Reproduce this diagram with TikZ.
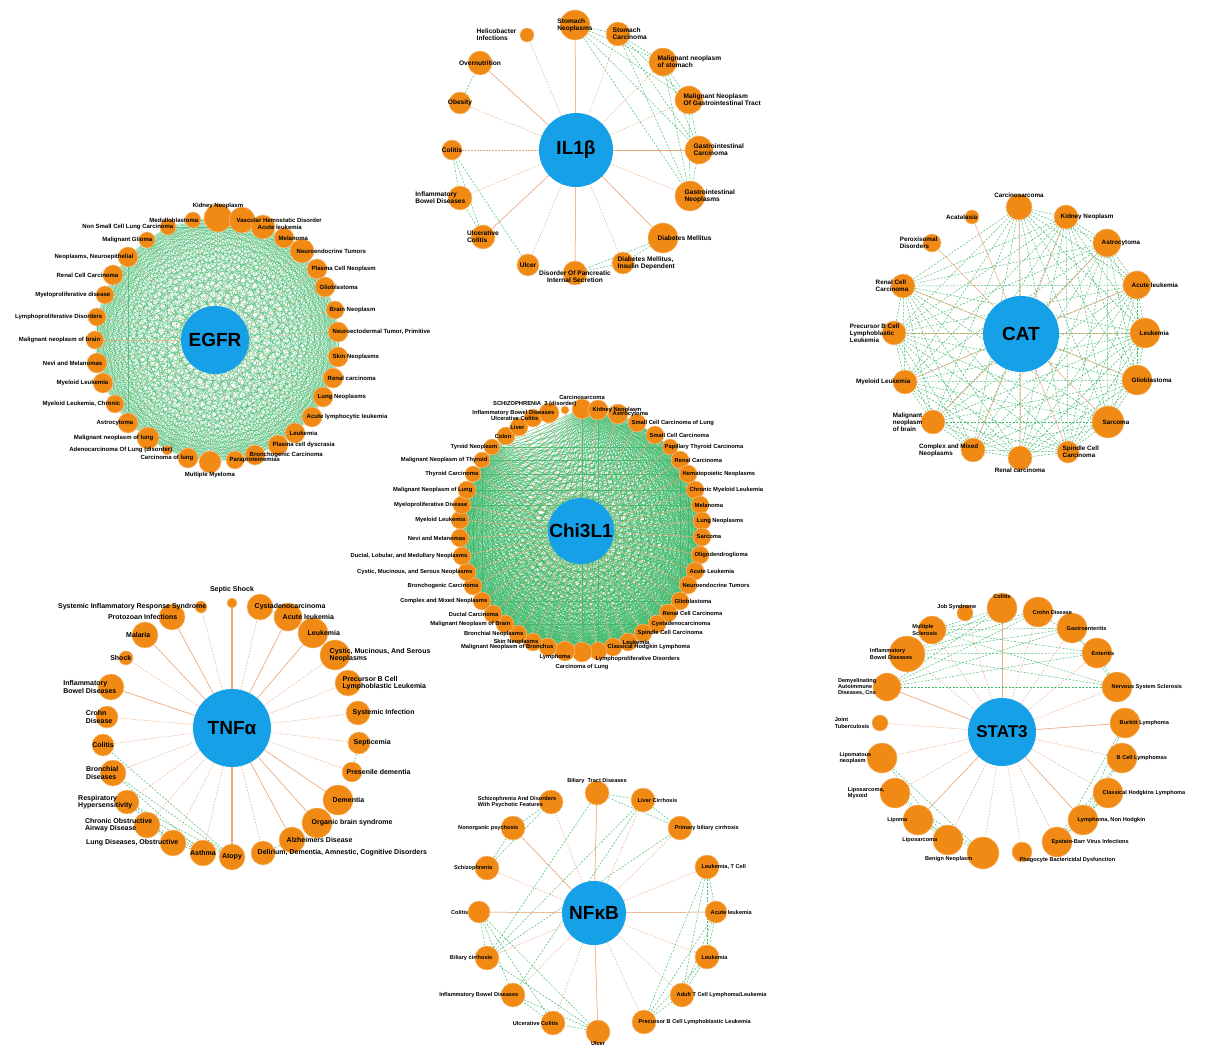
\documentclass[tikz,border=0pt]{standalone}
\usepackage{fontspec}
\setmainfont{Liberation Sans}
\definecolor{hubblue}{RGB}{22,160,232}
\definecolor{disor}{RGB}{240,138,20}
\definecolor{lineor}{RGB}{236,168,125}
\definecolor{linegr}{RGB}{60,185,105}
\pgfdeclarelayer{back}
\pgfdeclarelayer{front}
\pgfsetlayers{back,main,front}

\begin{document}
\begin{tikzpicture}[x=1pt,y=-1pt,
	hub/.style={circle,fill=hubblue,inner sep=0pt,font=\bfseries\fontsize{19}{20}\selectfont},
	dis/.style={circle,fill=disor,draw=disor!55!white,line width=0.5pt,inner sep=0pt},
	lbl/.style={inner sep=0.5pt,font=\bfseries\fontsize{6}{6.6}\selectfont},
	tE/.style={anchor=west,xshift=-6pt,align=left},
	tW/.style={anchor=east,xshift=6pt,align=left},
	tN/.style={anchor=south,yshift=9pt,align=center},
	tS/.style={anchor=north,yshift=-9pt,align=center},
	tSd/.style={anchor=north,yshift=-12pt,align=center},
	tSo/.style={anchor=north,xshift=-10pt,yshift=-3pt,align=center},
	tM/.style={anchor=center,align=left},
	tC/.style={anchor=north,yshift=3pt,align=center},
	tL/.style={anchor=east,xshift=-10pt,align=left},
	tSE/.style={anchor=north west,xshift=-3pt,yshift=-5pt},
	tSW/.style={anchor=north east,xshift=-10pt,yshift=-3pt},
	tNW/.style={anchor=south east,xshift=12pt,yshift=3pt},
	hubline/.style={draw=lineor,line width=0.5pt,dash pattern=on 1.5pt off 1.5pt},
	hubsolid/.style={draw=lineor,line width=0.5pt},
	gline/.style={draw=linegr,line width=0.45pt,dash pattern=on 2pt off 1.5pt},
	gdense/.style={draw=linegr,line width=0.3pt,opacity=0.75}]

	\useasboundingbox (0,0) rectangle (1210,1048);
	\begin{pgfonlayer}{back}
		\fill[white] (0,0) rectangle (1210,1048);
	\end{pgfonlayer}

	% IL1b
	\begin{scope}[lbl/.append style={font=\bfseries\fontsize{6.6}{7.2}\selectfont}]
		\node[hub,minimum size=74] (il) at (576,150) {IL1β};
		\foreach \px/\py/\rad/\side/\lab [count=\i] in {
			575/25/15/tM/{Stomach\\Neoplasms},
			618/34/12/tE/{Stomach\\Carcinoma},
			663/62/14/tE/{Malignant neoplasm\\of stomach},
			689/100/14/tE/{Malignant Neoplasm\\Of Gastrointestinal Tract},
			699/150/14/tE/{Gastrointestinal\\Carcinoma},
			690/196/15/tE/{Gastrointestinal\\Neoplasms},
			663/238/15/tE/{Diabetes Mellitus},
			623/263/11/tE/{Diabetes Mellitus,\\Insulin Dependent},
			575/273/12/tC/{Disorder Of Pancreatic\\Internal Secretion},
			528/265/11/tM/{Ulcer},
			483/237/12/tM/{Ulcerative\\Colitis},
			460/198/12/tW/{Inflammatory\\Bowel Diseases},
			452/150/10/tM/{Colitis},
			460/103/11/tM/{Obesity},
			480/63/12/tM/{Overnutrition},
			527/35/7/tL/{Helicobacter\\Infections}}{
			\node[dis,minimum size=2*\rad] (il-\i) at (\px,\py) {};
			\begin{pgfonlayer}{front}
				\node[lbl,\side] (il-\i-t) at (il-\i.center) {\lab};
			\end{pgfonlayer}
		}
	\end{scope}
	\begin{pgfonlayer}{back}
		\foreach \i in {1,...,16} \draw[hubline] (il) -- (il-\i);
		\foreach \i in {1,5,7,9,11,15} \draw[hubsolid] (il) -- (il-\i);
		\foreach \a/\b in {1/2,1/3,1/4,1/5,1/6,2/3,2/4,2/5,2/6,3/4,3/5,3/6,4/5,4/6,5/6,7/8,7/9,8/9,11/12,11/13,12/13,10/13,14/15}
			\draw[gline] (il-\a) -- (il-\b);
	\end{pgfonlayer}

	% EGFR
	\node[hub,minimum size=68] (eg) at (215,340) {EGFR};
	\foreach \px/\py/\rad/\side/\lab [count=\i] in {
		218/218/14/tN/{Kidney Neoplasm},
		242/220/13/tE/{Vascular Hemostatic Disorder},
		263/227/12/tE/{Acute leukemia},
		284/238/10/tE/{Melanoma},
		302/251/12/tE/{Neuroendocrine Tumors},
		317/269/10/tE/{Plasma Cell Neoplasm},
		325/287/10/tE/{Glioblastoma},
		335/310/9/tE/{Brain Neoplasm},
		338/332/10/tE/{Neuroectodermal Tumor, Primitive},
		338/357/10/tE/{Skin Neoplasms},
		333/378/10/tE/{Renal carcinoma},
		323/397/10/tE/{Lung Neoplasms},
		312/417/10/tE/{Acute lymphocytic leukemia},
		295/433/10/tE/{Leukemia},
		278/445/10/tE/{Plasma cell dyscrasia},
		255/455/10/tE/{Bronchogenic Carcinoma},
		235/460/9/tE/{Paraproteinemias},
		210/462/11/tS/{Multiple Myeloma},
		188/458/10/tW/{Carcinoma of lung},
		167/450/5/tW/{Adenocarcinoma Of Lung (disorder)},
		148/438/11/tW/{Malignant neoplasm of lung},
		128/423/10/tW/{Astrocytoma},
		115/404/9/tW/{Myeloid Leukemia, Chronic},
		103/383/10/tW/{Myeloid Leukemia},
		97/363/10/tW/{Nevi and Melanomas},
		95/340/9/tW/{Malignant neoplasm of brain},
		97/317/9/tW/{Lymphoproliferative Disorders},
		105/295/9/tW/{Myeloproliferative disease},
		113/275/10/tW/{Renal Cell Carcinoma},
		128/257/10/tW/{Neoplasms, Neuroepithelial},
		147/240/8/tW/{Malignant Glioma},
		168/227/8/tW/{Non Small Cell Lung Carcinoma},
		193/220/8/tW/{Medulloblastoma}}{
		\node[dis,minimum size=2*\rad] (eg-\i) at (\px,\py) {};
		\begin{pgfonlayer}{front}
			\node[lbl,\side] (eg-\i-t) at (eg-\i.center) {\lab};
		\end{pgfonlayer}
	}
	\begin{pgfonlayer}{back}
		\foreach \i in {1,...,32}{
			\pgfmathtruncatemacro\nx{\i+1}
			\foreach \j in {\nx,...,33} \draw[gdense] (eg-\i) -- (eg-\j);
		}
		\foreach \i in {1,...,33} \draw[hubline] (eg) -- (eg-\i);
	\end{pgfonlayer}

	% CAT
	\begin{scope}[lbl/.append style={font=\bfseries\fontsize{6.3}{7}\selectfont}]
		\node[hub,minimum size=76] (ca) at (1021,334) {CAT};
		\foreach \px/\py/\rad/\side/\lab [count=\i] in {
			1019/207/13/tN/{Carcinosarcoma},
			1066/217/12/tE/{Kidney Neoplasm},
			1107/243/14/tE/{Astrocytoma},
			1137/285/14/tE/{Acute leukemia},
			1145/333/15/tE/{Leukemia},
			1137/380/15/tE/{Glioblastoma},
			1108/422/16/tE/{Sarcoma},
			1068/452/11/tE/{Spindle Cell\\Carcinoma},
			1020/458/12/tS/{Renal carcinoma},
			973/450/12/tW/{Complex and Mixed\\Neoplasms},
			933/422/12/tL/{Malignant\\neoplasm\\of brain},
			905/382/12/tW/{Myeloid Leukemia},
			894/333/12/tW/{Precursor B Cell\\Lymphoblastic\\Leukemia},
			903/286/12/tW/{Renal Cell\\Carcinoma},
			932/243/9/tW/{Peroxisomal\\Disorders},
			972/217/7/tW/{Acatalasia}}{
			\node[dis,minimum size=2*\rad] (ca-\i) at (\px,\py) {};
			\begin{pgfonlayer}{front}
				\node[lbl,\side] (ca-\i-t) at (ca-\i.center) {\lab};
			\end{pgfonlayer}
		}
	\end{scope}
	\begin{pgfonlayer}{back}
		\foreach \i in {1,...,13}{
			\pgfmathtruncatemacro\nx{\i+1}
			\foreach \j in {\nx,...,14} \draw[gline] (ca-\i) -- (ca-\j);
		}
		\foreach \i in {1,...,16} \draw[hubsolid] (ca) -- (ca-\i);
	\end{pgfonlayer}

	% Chi3L1
	\begin{scope}[lbl/.append style={font=\bfseries\fontsize{5.8}{6.4}\selectfont}]
		\node[hub,minimum size=66] (ch) at (581,531) {Chi3L1};
		\foreach \px/\py/\rad/\side/\lab [count=\i] in {
			582/409/10/tN/{Carcinosarcoma},
			598/410/10/tE/{Kidney Neoplasm},
			618/414/10/tE/{Astrocytoma},
			637/423/9/tE/{Small Cell Carcinoma of Lung},
			655/435/9/tE/{Small Cell Carcinoma},
			670/447/8/tE/{Papillary Thyroid Carcinoma},
			680/460/9/tE/{Renal Carcinoma},
			688/474/9/tE/{Hematopoietic Neoplasms},
			695/490/9/tE/{Chronic Myeloid Leukemia},
			700/505/9/tE/{Melanoma},
			702/521/9/tE/{Lung Neoplasms},
			702/537/9/tE/{Sarcoma},
			700/555/9/tE/{Oligodendroglioma},
			695/571/9/tE/{Acute Leukemia},
			688/585/9/tE/{Neuroendocrine Tumors},
			680/601/9/tE/{Glioblastoma},
			668/613/9/tE/{Renal Cell Carcinoma},
			657/624/9/tE/{Cystadenocarcinoma},
			643/633/9/tE/{Spindle Cell Carcinoma},
			628/642/9/tE/{Leukemia},
			613/647/9/tE/{Classical Hodgkin Lymphoma},
			598/651/9/tSE/{Lymphoproliferative Disorders},
			582/652/10/tSd/{Carcinoma of Lung},
			565/651/10/tSo/{Lymphoma},
			548/647/9/tW/{Malignant Neoplasm of Bronchus},
			533/642/9/tW/{Skin Neoplasms},
			518/634/9/tW/{Bronchial Neoplasms},
			505/624/9/tW/{Malignant Neoplasm of Brain},
			493/614/9/tW/{Ductal Carcinoma},
			482/601/9/tW/{Complex and Mixed Neoplasms},
			473/586/9/tW/{Bronchogenic Carcinoma},
			467/572/9/tW/{Cystic, Mucinous, and Serous Neoplasms},
			462/556/9/tW/{Ductal, Lobular, and Medullary Neoplasms},
			460/538/9/tW/{Nevi and Melanomas},
			460/520/9/tW/{Myeloid Leukemia},
			462/505/9/tW/{Myeloproliferative Disease},
			467/490/9/tW/{Malignant Neoplasm of Lung},
			473/474/8/tW/{Thyroid Carcinoma},
			482/460/8/tW/{Malignant Neoplasm of Thyroid},
			492/447/8/tW/{Tyroid Neoplasm},
			506/436/9/tW/{Colon},
			519/427/9/tW/{Liver},
			533/418/9/tW/{Ulcerative Colitis},
			549/413/10/tW/{Inflammatory Bowel Diseases},
			565/410/4/tNW/{SCHIZOPHRENIA\ \ 3 (disorder)}}{
			\node[dis,minimum size=2*\rad] (ch-\i) at (\px,\py) {};
			\begin{pgfonlayer}{front}
				\node[lbl,\side] (ch-\i-t) at (ch-\i.center) {\lab};
			\end{pgfonlayer}
		}
	\end{scope}
	\begin{pgfonlayer}{back}
		\foreach \i in {1,...,39}{
			\pgfmathtruncatemacro\nx{\i+1}
			\foreach \j in {\nx,...,40} \draw[gdense,line width=0.4pt,opacity=0.85] (ch-\i) -- (ch-\j);
		}
		\foreach \i in {1,...,45} \draw[hubsolid] (ch) -- (ch-\i);
	\end{pgfonlayer}

	% TNFa
	\begin{scope}[lbl/.append style={font=\bfseries\fontsize{7}{7.6}\selectfont}]
		\node[hub,minimum size=78] (tn) at (232,728) {TNFα};
		\foreach \px/\py/\rad/\side/\lab [count=\i] in {
			232/603/5/tN/{Septic Shock},
			260/607/13/tE/{Cystadenocarcinoma},
			288/617/14/tE/{Acute leukemia},
			313/633/15/tE/{Leukemia},
			335/655/15/tE/{Cystic, Mucinous, And Serous\\Neoplasms},
			348/683/13/tE/{Precursor B Cell\\Lymphoblastic Leukemia},
			358/713/12/tE/{Systemic Infection},
			359/743/11/tE/{Septicemia},
			352/772/10/tE/{Presenile dementia},
			338/800/15/tE/{Dementia},
			317/823/15/tE/{Organic brain syndrome},
			292/840/13/tE/{Alzheimers Disease},
			263/853/12/tE/{Delirium, Dementia, Amnestic, Cognitive Disorders},
			232/857/13/tM/{Atopy},
			203/853/13/tM/{Asthma},
			173/843/13/tW/{Lung Diseases, Obstructive},
			147/825/13/tW/{Chronic Obstructive\\Airway Disease},
			127/802/12/tW/{Respiratory\\Hypersensitivity},
			113/773/13/tW/{Bronchial\\Diseases},
			103/745/11/tM/{Colitis},
			107/717/11/tW/{Crohn\\Disease},
			111/687/13/tW/{Inflammatory\\Bowel Diseases},
			126/658/7/tW/{Shock},
			145/635/13/tW/{Malaria},
			172/617/13/tW/{Protozoan Infections},
			201/607/6/tW/{Systemic Inflammatory Response Syndrome}}{
			\node[dis,minimum size=2*\rad] (tn-\i) at (\px,\py) {};
			\begin{pgfonlayer}{front}
				\node[lbl,\side] (tn-\i-t) at (tn-\i.center) {\lab};
			\end{pgfonlayer}
		}
	\end{scope}
	\begin{pgfonlayer}{back}
		\foreach \i in {1,...,26} \draw[hubline] (tn) -- (tn-\i);
		\foreach \i in {3,4,10,11,12,22,24,25} \draw[hubsolid] (tn) -- (tn-\i);
		\foreach \i in {1,14} \draw[hubsolid,line width=1.6pt] (tn) -- (tn-\i);
		\foreach \a/\b in {2/3,3/4,4/5,8/9,12/13,14/20,14/19,14/18,15/18,15/17,15/16,16/17,14/17,15/19,16/18}
			\draw[gline] (tn-\a) -- (tn-\b);
	\end{pgfonlayer}

	% STAT3
	\begin{scope}[lbl/.append style={font=\bfseries\fontsize{5.6}{6.4}\selectfont}]
		\node[hub,minimum size=68,font=\bfseries\fontsize{17}{18}\selectfont] (st) at (1002,732) {STAT3};
		\foreach \px/\py/\rad/\side/\lab [count=\i] in {
			1002/608/15/tN/{Colitis},
			1038/612/15/tE/{Crohn Disease},
			1072/628/15/tE/{Gastroenteritis},
			1097/653/15/tE/{Enteritis},
			1117/687/15/tE/{Nervous System Sclerosis},
			1125/723/15/tE/{Burkitt Lymphoma},
			1122/758/15/tE/{B Cell Lymphomas},
			1108/793/15/tE/{Classical Hodgkins Lymphoma},
			1083/820/15/tE/{Lymphoma, Non Hodgkin},
			1057/842/15/tE/{Epstein-Barr Virus Infections},
			1022/852/10/tSE/{Phagocyte Bactericidal Dysfunction},
			983/853/16/tSW/{Benign Neoplasm},
			948/840/15/tL/{Liposarcoma},
			918/820/15/tL/{Lipoma},
			895/793/15/tL/{Liposarcoma,\\Myxoid},
			882/758/15/tL/{Lipomatous\\neoplasm},
			880/723/8/tL/{Joint\\Tuberculosis},
			887/687/14/tL/{Demyelinating\\Autoimmune\\Diseases, Cns},
			907/654/18/tW/{Inflammatory\\Bowel Diseases},
			932/630/14/tW/{Multiple\\Sclerosis},
			965/613/8/tNW/{Job Syndrome}}{
			\node[dis,minimum size=2*\rad] (st-\i) at (\px,\py) {};
			\begin{pgfonlayer}{front}
				\node[lbl,\side] (st-\i-t) at (st-\i.center) {\lab};
			\end{pgfonlayer}
		}
	\end{scope}
	\begin{pgfonlayer}{back}
		\foreach \i in {1,...,21} \draw[hubline] (st) -- (st-\i);
		\foreach \i in {1,6,9,14,18} \draw[hubsolid] (st) -- (st-\i);
		\foreach \a/\b in {1/18,1/19,2/18,2/19,2/20,3/18,3/19,3/20,4/18,4/19,4/20,5/18,5/19,5/20,2/4,3/5,4/5,1/20,6/10,7/10,8/10,9/10,7/9,6/9,8/9,12/16,12/15,13/15,13/16,12/14,13/14}
			\draw[gline] (st-\a) -- (st-\b);
	\end{pgfonlayer}

	% NFkB
	\begin{scope}[lbl/.append style={font=\bfseries\fontsize{5.6}{6.4}\selectfont}]
		\node[hub,minimum size=64] (nf) at (594,913) {NFκB};
		\foreach \px/\py/\rad/\side/\lab [count=\i] in {
			597/793/12/tN/{Biliary\ \ Tract Diseases},
			643/800/12/tE/{Liver Cirrhosis},
			680/828/12/tE/{Primary biliary cirrhosis},
			707/867/12/tE/{Leukemia, T Cell},
			716/912/11/tE/{Acute leukemia},
			707/957/12/tE/{Leukemia},
			682/995/12/tE/{Adult T Cell Lymphoma/Leukemia},
			644/1022/12/tE/{Precursor B Cell Lymphoblastic Leukemia},
			598/1032/12/tS/{Ulcer},
			553/1023/12/tW/{Ulcerative Colitis},
			513/995/12/tW/{Inflammatory Bowel Diseases},
			487/958/12/tW/{Biliary cirrhosis},
			479/912/11/tL/{Colitis},
			487/868/12/tW/{Schizophrenia},
			513/828/12/tW/{Nonorganic psychosis},
			551/802/12/tW/{Schizophrenia And Disorders\\With Psychotic Features}}{
			\node[dis,minimum size=2*\rad] (nf-\i) at (\px,\py) {};
			\begin{pgfonlayer}{front}
				\node[lbl,\side] (nf-\i-t) at (nf-\i.center) {\lab};
			\end{pgfonlayer}
		}
	\end{scope}
	\begin{pgfonlayer}{back}
		\foreach \i in {1,...,16} \draw[hubline] (nf) -- (nf-\i);
		\foreach \i in {1,5,9,13,15} \draw[hubsolid] (nf) -- (nf-\i);
		\foreach \a/\b in {1/2,1/3,2/3,1/12,2/12,3/12,2/11,4/5,4/6,4/7,4/8,5/6,5/7,5/8,6/7,6/8,7/8,9/10,9/11,9/13,10/11,10/13,11/13,12/13,14/15,14/16,15/16,9/12}
			\draw[gline] (nf-\a) -- (nf-\b);
	\end{pgfonlayer}
\end{tikzpicture}
\end{document}
